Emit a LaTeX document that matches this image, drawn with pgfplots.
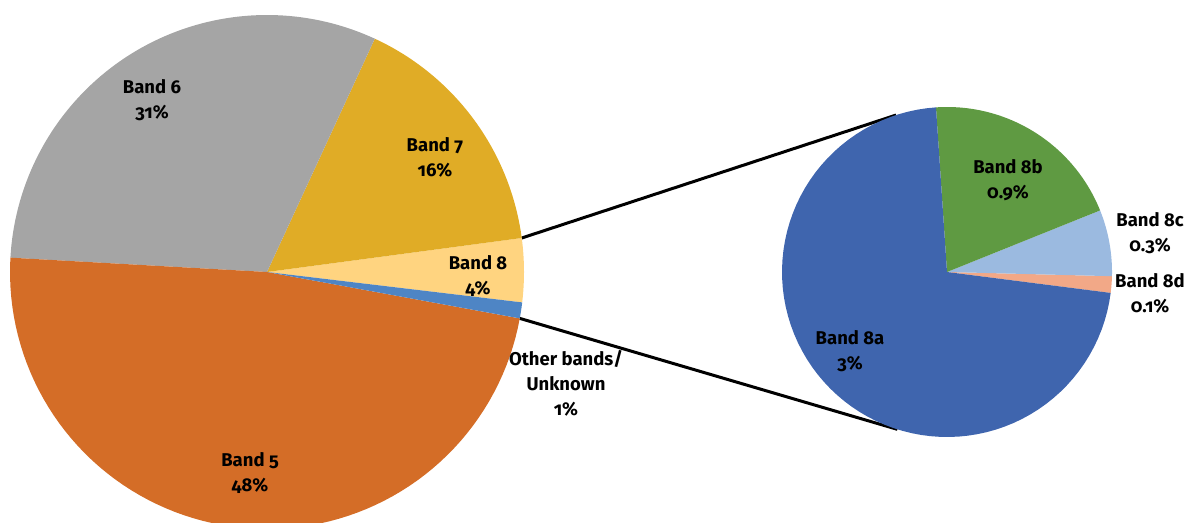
\documentclass[border=0pt]{standalone}
\usepackage{pgfplots}
\pgfplotsset{compat=1.18}
\usepackage{fontspec}
\setmainfont{Fira Sans}[Numbers=OldStyle]
\definecolor{cB5}{HTML}{D46D27}
\definecolor{cB6}{HTML}{A5A5A5}
\definecolor{cB7}{HTML}{E0AC26}
\definecolor{cB8}{HTML}{FFD480}
\definecolor{cOth}{HTML}{4E85C5}
\definecolor{cA}{HTML}{3F65AE}
\definecolor{cB}{HTML}{5F9A42}
\definecolor{cC}{HTML}{9BBAE0}
\definecolor{cD}{HTML}{F2A887}
\tikzset{lbl/.style={align=center,font=\bfseries\fontsize{18.5}{25}\selectfont,inner sep=0pt}}
% shares of all bands, per cent
\def\vB{4}\def\vBs{16}\def\vBx{31}\def\vBf{48}\def\vO{1}
% Band 8 split, per cent of all
\def\va{2.88}\def\vb{0.80}\def\vc{0.26}\def\vd{0.065}
\begin{document}
\begin{tikzpicture}
\pgfmathsetmacro{\LcX}{267}\pgfmathsetmacro{\LcY}{250}\pgfmathsetmacro{\LR}{257}
\pgfmathsetmacro{\RcX}{947}\pgfmathsetmacro{\RcY}{250}\pgfmathsetmacro{\RR}{165}
% left pie angles
\pgfmathsetmacro{\aO}{-6.8}
\pgfmathsetmacro{\aI}{\aO+\vB*3.6}
\pgfmathsetmacro{\aII}{\aI+\vBs*3.6}
\pgfmathsetmacro{\aIII}{\aII+\vBx*3.6}
\pgfmathsetmacro{\aIV}{\aIII+\vBf*3.6}
\pgfmathsetmacro{\aV}{\aIV+\vO*3.6}
% right pie angles
\pgfmathsetmacro{\tot}{\va+\vb+\vc+\vd}
\pgfmathsetmacro{\bO}{-7.3}
\pgfmathsetmacro{\bI}{\bO+\vd/\tot*360}
\pgfmathsetmacro{\bII}{\bI+\vc/\tot*360}
\pgfmathsetmacro{\bIII}{\bII+\vb/\tot*360}
\pgfmathsetmacro{\bIV}{\bIII+\va/\tot*360}
\begin{axis}[width=1190pt,height=522pt,scale only axis,
  xmin=0,xmax=1190,ymin=0,ymax=522,hide axis,
  every axis plot/.append style={draw=none,samples=80,variable=\t}]
% connector lines
\addplot[draw=black,line width=3pt,samples=2,domain=0:1]
  ({\LcX+\LR*cos(\aI)+t*(\RcX+\RR*cos(108)-\LcX-\LR*cos(\aI))},
   {\LcY+\LR*sin(\aI)+t*(\RcY+\RR*sin(108)-\LcY-\LR*sin(\aI))});
\addplot[draw=black,line width=3pt,samples=2,domain=0:1]
  ({\LcX+\LR*cos(\aIV)+t*(\RcX+\RR*cos(-107.5)-\LcX-\LR*cos(\aIV))},
   {\LcY+\LR*sin(\aIV)+t*(\RcY+\RR*sin(-107.5)-\LcY-\LR*sin(\aIV))});
% left pie
\addplot[fill=cB8,domain=\aO:\aI] ({\LcX+\LR*cos(t)},{\LcY+\LR*sin(t)}) -- (\LcX,\LcY) -- cycle;
\addplot[fill=cB7,domain=\aI:\aII] ({\LcX+\LR*cos(t)},{\LcY+\LR*sin(t)}) -- (\LcX,\LcY) -- cycle;
\addplot[fill=cB6,domain=\aII:\aIII] ({\LcX+\LR*cos(t)},{\LcY+\LR*sin(t)}) -- (\LcX,\LcY) -- cycle;
\addplot[fill=cB5,domain=\aIII:\aIV] ({\LcX+\LR*cos(t)},{\LcY+\LR*sin(t)}) -- (\LcX,\LcY) -- cycle;
\addplot[fill=cOth,domain=\aIV:\aV] ({\LcX+\LR*cos(t)},{\LcY+\LR*sin(t)}) -- (\LcX,\LcY) -- cycle;
% right pie
\addplot[fill=cD,domain=\bO:\bI] ({\RcX+\RR*cos(t)},{\RcY+\RR*sin(t)}) -- (\RcX,\RcY) -- cycle;
\addplot[fill=cC,domain=\bI:\bII] ({\RcX+\RR*cos(t)},{\RcY+\RR*sin(t)}) -- (\RcX,\RcY) -- cycle;
\addplot[fill=cB,domain=\bII:\bIII] ({\RcX+\RR*cos(t)},{\RcY+\RR*sin(t)}) -- (\RcX,\RcY) -- cycle;
\addplot[fill=cA,domain=\bIII:\bIV] ({\RcX+\RR*cos(t)},{\RcY+\RR*sin(t)}) -- (\RcX,\RcY) -- cycle;
\end{axis}
\begin{axis}[width=1190pt,height=522pt,scale only axis,
  xmin=0,xmax=1190,ymin=0,ymax=522,hide axis,clip=false]
\node[lbl] at (152,422) {Band 6\\31\%};
\node[lbl] at (435,365) {Band 7\\16\%};
\node[lbl] at (478,246) {Band 8\\4\%};
\node[lbl] at (566,139) {Other bands/\\Unknown\\1\%};
\node[lbl] at (250,49) {Band 5\\48\%};
\node[lbl] at (1008,342) {Band 8b\\0.9\%};
\node[lbl] at (1150,289) {Band 8c\\0.3\%};
\node[lbl] at (1150,229) {Band 8d\\0.1\%};
\node[lbl] at (850,171) {Band 8a\\3\%};
\end{axis}
\pgfresetboundingbox
\useasboundingbox (current axis.south west) rectangle (current axis.north east);
\end{tikzpicture}
\end{document}
